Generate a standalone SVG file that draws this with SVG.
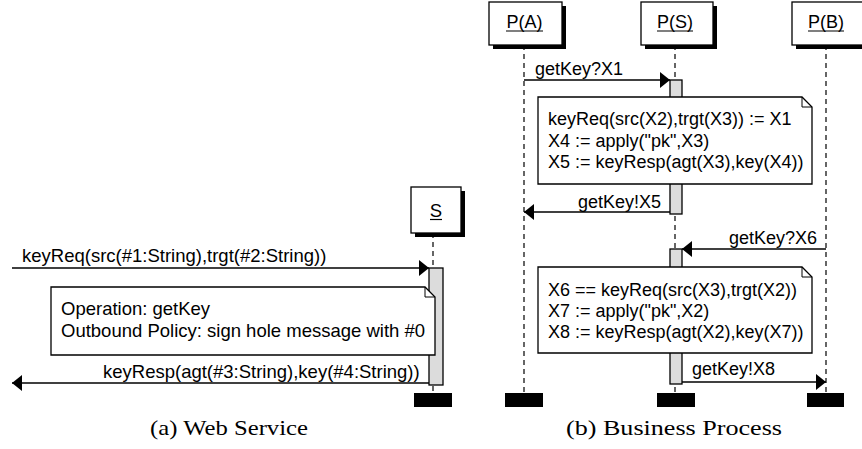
<svg xmlns="http://www.w3.org/2000/svg" width="862" height="449" viewBox="0 0 862 449">
<defs>
<style>
.box{fill:#fff;stroke:#000;stroke-width:1.3}
.shadow{fill:#000}
.life{stroke:#000;stroke-width:1.2;stroke-dasharray:5 4;fill:none}
.bar{fill:#dcdcdc;stroke:#000;stroke-width:1.3}
.end{fill:#000}
.ul{stroke:#000;stroke-width:1.2}
.msg{stroke:#000;stroke-width:1.3;fill:none;marker-end:url(#arrow)}
.note{fill:#fff;stroke:#000;stroke-width:1.3}
.fold{fill:none;stroke:#000;stroke-width:1}
text{font-family:"Liberation Sans",Arial,sans-serif;font-size:18.5px;fill:#000}
text.bp{font-size:18px}
text.cap{font-family:"Liberation Serif","Times New Roman",serif;font-size:22px}
</style>
<marker id="arrow" markerUnits="userSpaceOnUse" markerWidth="10" markerHeight="16" refX="10" refY="8" orient="auto">
<path d="M0,0 L10,8 L0,16 Z" fill="#000"/>
</marker>
</defs>
<rect width="862" height="449" fill="#fff"/>

<!-- Web Service -->
<g id="ws-S">
<line class="life" x1="433" y1="233" x2="433" y2="393"/>
<rect class="shadow" x="415" y="191" width="50" height="46"/>
<rect class="box" x="411" y="187" width="50" height="46"/>
<text x="436" y="217" text-anchor="middle">S</text>
<line class="ul" x1="430" y1="219.5" x2="442" y2="219.5"/>
<rect class="bar" x="429" y="268" width="14" height="117"/>
<rect class="end" x="414" y="393" width="38" height="14"/>
</g>

<g id="ws-note">
<path class="note" d="M51,287 H425 L435,297 V355 H51 Z"/>
<path class="fold" d="M425,287 V297 H435"/>
<text x="61" y="315">Operation: getKey</text>
<text x="61" y="337">Outbound Policy: sign hole message with #0</text>
</g>

<!-- Business Process -->
<g id="bp-A">
<line class="life" x1="524" y1="45" x2="524" y2="393"/>
<rect class="shadow" x="493" y="6" width="73" height="43"/>
<rect class="box" x="489" y="2" width="73" height="43"/>
<text class="bp" x="524.5" y="28" text-anchor="middle">P(A)</text>
<line class="ul" x1="506" y1="31" x2="543" y2="31"/>
<rect class="end" x="505" y="393" width="38" height="14"/>
</g>

<g id="bp-S">
<line class="life" x1="675" y1="45" x2="675" y2="393"/>
<rect class="shadow" x="645" y="6" width="72" height="43"/>
<rect class="box" x="641" y="2" width="72" height="43"/>
<text class="bp" x="675" y="28" text-anchor="middle">P(S)</text>
<line class="ul" x1="657" y1="31" x2="693" y2="31"/>
<rect class="bar" x="670" y="80" width="12" height="134"/>
<rect class="bar" x="670" y="249" width="12" height="135"/>
<rect class="end" x="657" y="393" width="38" height="14"/>
</g>

<g id="bp-B">
<line class="life" x1="826" y1="45" x2="826" y2="393"/>
<rect class="shadow" x="796" y="6" width="72" height="43"/>
<rect class="box" x="792" y="2" width="72" height="43"/>
<text class="bp" x="826" y="28" text-anchor="middle">P(B)</text>
<line class="ul" x1="808" y1="31" x2="844" y2="31"/>
<rect class="end" x="807" y="393" width="37" height="14"/>
</g>

<g id="bp-note1">
<path class="note" d="M538,97 H802 L812,107 V184 H538 Z"/>
<path class="fold" d="M802,97 V107 H812"/>
<text class="bp" x="548" y="125">keyReq(src(X2),trgt(X3)) := X1</text>
<text class="bp" x="548" y="146.5">X4 := apply("pk",X3)</text>
<text class="bp" x="548" y="168">X5 := keyResp(agt(X3),key(X4))</text>
</g>

<g id="bp-note2">
<path class="note" d="M538,267 H802 L812,277 V353 H538 Z"/>
<path class="fold" d="M802,267 V277 H812"/>
<text class="bp" x="548" y="296">X6 == keyReq(src(X3),trgt(X2))</text>
<text class="bp" x="548" y="317">X7 := apply("pk",X2)</text>
<text class="bp" x="548" y="338">X8 := keyResp(agt(X2),key(X7))</text>
</g>

<g id="connectors">
<line class="msg" x1="12" y1="268" x2="429" y2="268"/>
<text x="22" y="262">keyReq(src(#1:String),trgt(#2:String))</text>
<line class="msg" x1="429" y1="383" x2="12" y2="383"/>
<text x="103" y="378">keyResp(agt(#3:String),key(#4:String))</text>
<line class="msg" x1="524" y1="80" x2="670" y2="80"/>
<text class="bp" x="535" y="75">getKey?X1</text>
<line class="msg" x1="670" y1="212" x2="524" y2="212"/>
<text class="bp" x="578" y="208">getKey!X5</text>
<line class="msg" x1="826" y1="249" x2="682" y2="249"/>
<text class="bp" x="729" y="244">getKey?X6</text>
<line class="msg" x1="682" y1="382" x2="826" y2="382"/>
<text class="bp" x="692" y="375">getKey!X8</text>
</g>

<g id="captions">
<text class="cap" x="150" y="435" textLength="158" lengthAdjust="spacingAndGlyphs">(a) Web Service</text>
<text class="cap" x="566" y="435" textLength="216" lengthAdjust="spacingAndGlyphs">(b) Business Process</text>
</g>
</svg>
